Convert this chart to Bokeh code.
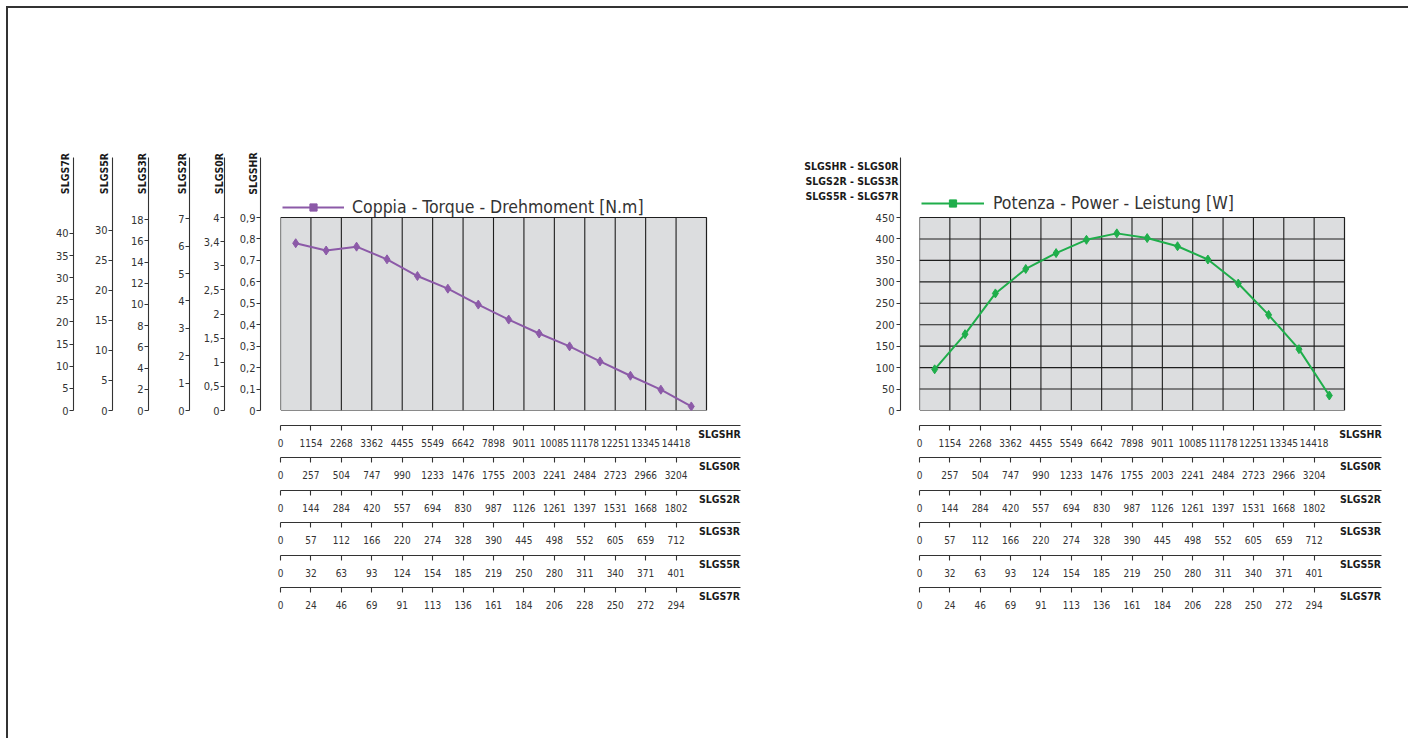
from bokeh.plotting import figure
from bokeh.models import Range1d, LinearAxis, FixedTicker, Legend, LegendItem
from bokeh.layouts import row
from bokeh.embed import file_html
from bokeh.resources import INLINE

# ---------------- data ----------------
models = ["SLGSHR", "SLGS0R", "SLGS2R", "SLGS3R", "SLGS5R", "SLGS7R"]
rpm_slgshr = [0, 1154, 2268, 3362, 4455, 5549, 6642, 7898, 9011, 10085, 11178, 12251, 13345, 14418]
rpm_slgs0r = [0, 257, 504, 747, 990, 1233, 1476, 1755, 2003, 2241, 2484, 2723, 2966, 3204]
rpm_slgs2r = [0, 144, 284, 420, 557, 694, 830, 987, 1126, 1261, 1397, 1531, 1668, 1802]
rpm_slgs3r = [0, 57, 112, 166, 220, 274, 328, 390, 445, 498, 552, 605, 659, 712]
rpm_slgs5r = [0, 32, 63, 93, 124, 154, 185, 219, 250, 280, 311, 340, 371, 401]
rpm_slgs7r = [0, 24, 46, 69, 91, 113, 136, 161, 184, 206, 228, 250, 272, 294]
rpm_rows = [rpm_slgshr, rpm_slgs0r, rpm_slgs2r, rpm_slgs3r, rpm_slgs5r, rpm_slgs7r]

torque_slgshr = [0.78, 0.746, 0.764, 0.705, 0.627, 0.568, 0.494, 0.424, 0.359, 0.299, 0.229, 0.162, 0.097, 0.019]
power_w = [96, 178, 273, 330, 367, 398, 413, 402, 383, 352, 296, 223, 143, 35]

ticks_slgshr = [0, 0.1, 0.2, 0.3, 0.4, 0.5, 0.6, 0.7, 0.8, 0.9]
labels_slgshr = ["0", "0,1", "0,2", "0,3", "0,4", "0,5", "0,6", "0,7", "0,8", "0,9"]
ticks_slgs0r = [0, 0.5, 1, 1.5, 2, 2.5, 3, 3.5, 4]
labels_slgs0r = ["0", "0,5", "1", "1,5", "2", "2,5", "3", "3,4", "4"]
ticks_slgs2r = [0, 1, 2, 3, 4, 5, 6, 7]
ticks_slgs3r = [0, 2, 4, 6, 8, 10, 12, 14, 16, 18]
ticks_slgs5r = [0, 5, 10, 15, 20, 25, 30]
ticks_slgs7r = [0, 5, 10, 15, 20, 25, 30, 35, 40]
# value of each torque scale at the top edge of the grey field (HR, 0R, 2R, 3R, 5R, 7R)
torque_scale_top = [0.9, 4.0, 7.05, 18.2, 32.1, 43.6]

power_ticks = [0, 50, 100, 150, 200, 250, 300, 350, 400, 450]
power_title = ["SLGSHR - SLGS0R", "SLGS2R - SLGS3R", "SLGS5R - SLGS7R"]
torque_legend = "Coppia - Torque - Drehmoment [N.m]"
power_legend = "Potenza - Power - Leistung [W]"

# ---------------- style / layout ----------------
FONT = "Noto Sans Condensed, DejaVu Sans Condensed, Liberation Sans Narrow, Roboto Condensed, Roboto, sans-serif"
NUM_SIZE = "11px"
ROW_NUM_SIZE = "10px"
NAME_SIZE = "10.5px"
INK = "#333333"
NAME_INK = "#1a1a1a"
GRIDC = "#1e1e1e"
BOX_FILL = "#dcdddf"
PURPLE = "#8c5aa8"
GREEN = "#1fae4b"
OVH_W = 7.0          # extra width reserved by the power axis labels
DIGIT_W = 5.7
COMMA_W = 3.2
H_TITLE = 13.2       # extent of a rotated 10.5px bold label
# measured width of each torque scale column (ticks + labels), HR .. 7R
torque_col_w = [24, 25, 13, 18, 18, 18]
title_shift = [0, 0, 0, 3, 2, 2]        # move rotated titles closer to their axis line
col_gap_fix = [0, 0, 0, -6, -1]          # spacing corrections between columns
row_gaps = [8, 9, 8, 9, 8]               # gaps between the stacked speed rows


def add_axis(p, side, ticks, labels=None, range_name="default", tick_out=0, standoff=0,
             line=False, tick_color=None, font_size=NUM_SIZE, bold=False,
             orientation="horizontal", show_labels=True, color=INK):
    if labels is None:
        labels = [""] * len(ticks)
    kw = dict(ticker=FixedTicker(ticks=ticks, minor_ticks=[]),
              major_label_overrides=dict(zip(ticks, labels)),
              axis_line_color=INK if line else None, axis_line_width=1.1,
              major_tick_out=tick_out, major_tick_in=0,
              major_tick_line_color=tick_color, major_tick_line_width=1.1,
              minor_tick_out=0, minor_tick_in=0, minor_tick_line_color=None,
              major_label_standoff=int(round(standoff)),
              major_label_orientation=orientation,
              major_label_text_font=FONT,
              major_label_text_font_size=font_size if show_labels else "0px",
              major_label_text_font_style="bold" if bold else "normal",
              major_label_text_color=color,
              major_label_text_alpha=1.0 if show_labels else 0.0)
    if side in ("left", "right"):
        kw["y_range_name"] = range_name
    else:
        kw["x_range_name"] = range_name
    p.add_layout(LinearAxis(**kw), side)


def spacer(p, side, size):
    add_axis(p, side, [0], tick_out=int(round(max(size, 0))), tick_color="#ffffff", show_labels=False)


def label_w(s):
    return sum(COMMA_W if c == "," else DIGIT_W for c in s)


def make_chart(fl, fr, ft, fb, grey_right, grey_top, ymax, canvas_left, canvas_right):
    n = len(rpm_slgshr)
    ppx = (grey_right - fl) / n
    ppy = (fb - grey_top) / ymax
    p = figure(output_backend="svg", toolbar_location=None,
               frame_width=fr - fl, frame_height=fb - ft,
               min_border_left=fl - canvas_left, min_border_right=canvas_right - fr,
               min_border_top=ft, min_border_bottom=738 - fb,
               x_range=Range1d(0, (fr - fl) / ppx), y_range=Range1d(0, (fb - ft) / ppy),
               x_axis_location=None, y_axis_location=None,
               outline_line_color=None, background_fill_color="white",
               border_fill_color=None)
    p.xgrid.visible = False
    p.ygrid.visible = False
    p.extra_y_ranges["legend_only"] = Range1d(10 * ymax, 11 * ymax)
    tx = lambda px: (px - fl) / ppx
    ty = lambda py: (fb - py) / ppy
    return p, n, tx, ty, (fb - ft) / (fb - grey_top)


def bottom_axes(p, tx, right_px):
    spacer(p, "below", 15)
    for k, (name, rp) in enumerate(zip(models, rpm_rows)):
        ticks = list(range(len(rp)))
        add_axis(p, "below", ticks, tick_out=5, tick_color=INK, line=True, show_labels=False)
        add_axis(p, "below", [tx(right_px - 21)], [name], standoff=-3, font_size=NAME_SIZE,
                 bold=True, color=NAME_INK)
        add_axis(p, "below", ticks, [str(v) for v in rp], standoff=-4, font_size=ROW_NUM_SIZE)
        if k < len(models) - 1:
            spacer(p, "below", row_gaps[k])


def legend_for(p, line_r, xs, ys, color, text, loc, gw, standoff):
    sq = p.scatter(xs, ys, marker="square", size=7, color=color, y_range_name="legend_only")
    leg = Legend(items=[LegendItem(label=text, renderers=[line_r, sq])],
                 location=loc, glyph_width=gw, glyph_height=18, label_standoff=standoff,
                 padding=0, margin=0, spacing=0, border_line_color=None, background_fill_alpha=0,
                 label_text_font=FONT, label_text_font_size="17.5px", label_text_color=INK)
    p.add_layout(leg)


FT = 157   # frames of both charts share their top edge

# ================= torque chart =================
T_FL, T_FR, T_FB = 280, 740, 410
p1, n, tx1, ty1, kf = make_chart(T_FL, T_FR, FT, T_FB, 706, 217, torque_scale_top[0], 0, 760)
for name, top in zip(models[1:], torque_scale_top[1:]):
    p1.extra_y_ranges[name] = Range1d(0, top * kf)

tick_sets = [(ticks_slgshr, labels_slgshr), (ticks_slgs0r, labels_slgs0r),
             (ticks_slgs2r, [str(v) for v in ticks_slgs2r]), (ticks_slgs3r, [str(v) for v in ticks_slgs3r]),
             (ticks_slgs5r, [str(v) for v in ticks_slgs5r]), (ticks_slgs7r, [str(v) for v in ticks_slgs7r])]
axis_px = [260, 224, 188, 149, 110, 73]
spacer(p1, "left", T_FL - axis_px[0])
for k, (name, (tk, lb)) in enumerate(zip(models, tick_sets)):
    w = torque_col_w[k]
    add_axis(p1, "left", tk, lb, range_name="default" if k == 0 else name,
             tick_out=4, standoff=1, line=True, tick_color=INK)
    s_t = 1.5 - w - title_shift[k]
    add_axis(p1, "left", [ty1(173)], [name], standoff=s_t, font_size=NAME_SIZE, bold=True,
             orientation="vertical", color=NAME_INK)
    size_t = max(0.0, s_t + H_TITLE)
    if k < len(models) - 1:
        spacer(p1, "left", axis_px[k] - w - size_t - axis_px[k + 1] + col_gap_fix[k])

bottom_axes(p1, tx1, T_FR)

xs_cols = list(range(1, n))
top1 = ticks_slgshr[-1]
p1.quad(left=[0], right=[n], bottom=[0], top=[top1], fill_color=BOX_FILL, line_color=GRIDC, line_width=1.2)
p1.segment(x0=xs_cols, y0=[0] * len(xs_cols), x1=xs_cols, y1=[top1] * len(xs_cols),
           line_color=GRIDC, line_width=1.1)
xs_mid = [i + 0.5 for i in range(n)]
l1 = p1.line(xs_mid, torque_slgshr, line_color=PURPLE, line_width=2)
p1.scatter(xs_mid, torque_slgshr, marker="diamond", size=9, color=PURPLE)
legend_for(p1, l1, xs_mid, torque_slgshr, PURPLE, torque_legend, (2, 193), 62, 8)

# ================= power chart =================
P_FL, P_FR, P_FB = 919, 1381, 410
p2, n2, tx2, ty2, _ = make_chart(P_FL, P_FR, FT, P_FB, 1344, 217, power_ticks[-1], 760, 1408)
spacer(p2, "left", 19)
add_axis(p2, "left", power_ticks, [str(v) for v in power_ticks], tick_out=4, standoff=2,
         line=True, tick_color=INK)
w_p = 4 + 2 + max(label_w(str(v)) for v in power_ticks) + OVH_W
add_axis(p2, "left", [ty2(165 + 15 * k) for k in range(len(power_title))], power_title,
         standoff=(900 - w_p) - 896, font_size=NAME_SIZE, bold=True, color=NAME_INK)
bottom_axes(p2, tx2, P_FR)

top2 = power_ticks[-1]
p2.quad(left=[0], right=[n2], bottom=[0], top=[top2], fill_color=BOX_FILL, line_color=GRIDC, line_width=1.2)
p2.segment(x0=xs_cols, y0=[0] * len(xs_cols), x1=xs_cols, y1=[top2] * len(xs_cols),
           line_color=GRIDC, line_width=1.1)
ys_rows = power_ticks[1:-1]
p2.segment(x0=[0] * len(ys_rows), y0=ys_rows, x1=[n2] * len(ys_rows), y1=ys_rows,
           line_color=GRIDC, line_width=1.1)
l2 = p2.line(xs_mid, power_w, line_color=GREEN, line_width=2)
p2.scatter(xs_mid, power_w, marker="diamond", size=9, color=GREEN)
legend_for(p2, l2, xs_mid, power_w, GREEN, power_legend, (2, 197), 63, 9)

border_line = "linear-gradient(#333333,#333333)"
layout = row(p1, p2)
layout.styles = {"background": f"{border_line} 6px 6px / 100% 2px no-repeat, "
                               f"{border_line} 6px 6px / 2px 100% no-repeat"}
open("out.html", "w").write(file_html(layout, INLINE))
